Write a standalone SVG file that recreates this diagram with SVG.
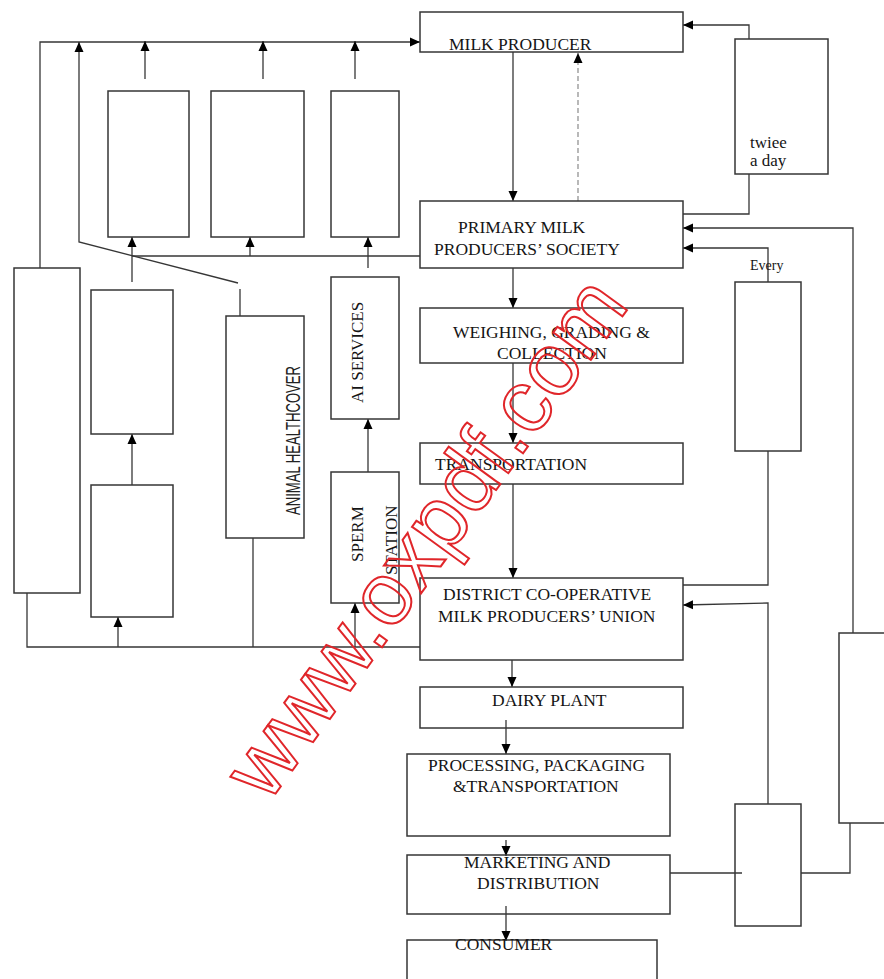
<svg xmlns="http://www.w3.org/2000/svg" width="884" height="979" viewBox="0 0 884 979">
<defs>
<style>
.box{fill:none;stroke:#363636;stroke-width:1.5}
.ln{fill:none;stroke:#363636;stroke-width:1.3}
.dash{fill:none;stroke:#8a8a8a;stroke-width:1.2;stroke-dasharray:5 3}
.t{font-family:"Liberation Serif","Times New Roman",serif;font-size:17.5px;fill:#151515}
.s{font-family:"Liberation Serif","Times New Roman",serif;font-size:17px;fill:#151515}
.r{font-family:"Liberation Serif","Times New Roman",serif;font-size:17px;fill:#151515}
.n{font-family:"Liberation Sans",Arial,sans-serif;font-size:14px;fill:#222}
.wm{font-family:"Liberation Sans",Arial,sans-serif;font-size:88px;fill:none;stroke:#e0262a;stroke-width:2}
</style>
<marker id="ah" viewBox="0 0 10 10" refX="10" refY="5" markerWidth="10" markerHeight="10" markerUnits="userSpaceOnUse" orient="auto">
<path d="M0,0.5 L10,5 L0,9.5 z" fill="#000"/>
</marker>
</defs>
<rect width="884" height="979" fill="#fff"/>

<g id="connectors">
<path class="ln" d="M40,268 V42 H420" marker-end="url(#ah)"/>
<path class="ln" d="M238,283 L79,242 V42" marker-end="url(#ah)"/>
<path class="ln" d="M240,316 V289"/>
<path class="ln" d="M145,79 V41" marker-end="url(#ah)"/>
<path class="ln" d="M263,79 V41" marker-end="url(#ah)"/>
<path class="ln" d="M355,79 V41" marker-end="url(#ah)"/>
<path class="ln" d="M420,256 H132"/>
<path class="ln" d="M132,282 V237" marker-end="url(#ah)"/>
<path class="ln" d="M250,256 V237" marker-end="url(#ah)"/>
<path class="ln" d="M368,268 V237" marker-end="url(#ah)"/>
<path class="ln" d="M132,485 V434" marker-end="url(#ah)"/>
<path class="ln" d="M27,593 V647 H420"/>
<path class="ln" d="M118,647 V617" marker-end="url(#ah)"/>
<path class="ln" d="M253,538 V647"/>
<path class="ln" d="M355,647 V603" marker-end="url(#ah)"/>
<path class="ln" d="M368,472 V419" marker-end="url(#ah)"/>
<path class="ln" d="M513,52 V201" marker-end="url(#ah)"/>
<path class="dash" d="M578,201 V53" marker-end="url(#ah)"/>
<path class="ln" d="M513,268 V308" marker-end="url(#ah)"/>
<path class="ln" d="M513,363 V443" marker-end="url(#ah)"/>
<path class="ln" d="M513,484 V578" marker-end="url(#ah)"/>
<path class="ln" d="M512,660 V687" marker-end="url(#ah)"/>
<path class="ln" d="M506,720 V754" marker-end="url(#ah)"/>
<path class="ln" d="M506,840 V856" marker-end="url(#ah)"/>
<path class="ln" d="M506,906 V941" marker-end="url(#ah)"/>
<path class="ln" d="M749,39 V25 H683" marker-end="url(#ah)"/>
<path class="ln" d="M683,214 H749 V174"/>
<path class="ln" d="M853,633 V228 H683" marker-end="url(#ah)"/>
<path class="ln" d="M768,282 V248 H683" marker-end="url(#ah)"/>
<path class="ln" d="M768,451 V585 H683"/>
<path class="ln" d="M768,804 V603 L683,605" marker-end="url(#ah)"/>
<path class="ln" d="M670,873 H742"/>
<path class="ln" d="M801,873 H850 V823"/>
</g>

<g id="milk-producer"><rect class="box" x="420" y="12" width="263" height="40"/><text class="t" x="449" y="50">MILK PRODUCER</text></g>
<g id="primary-society"><rect class="box" x="420" y="201" width="263" height="67"/><text class="t" x="458" y="233">PRIMARY MILK</text><text class="t" x="434" y="255">PRODUCERS’ SOCIETY</text></g>
<g id="weighing"><rect class="box" x="420" y="308" width="263" height="55"/><text class="t" x="453" y="338">WEIGHING, GRADING &amp;</text><text class="t" x="497" y="359">COLLECTION</text></g>
<g id="transportation"><rect class="box" x="420" y="443" width="263" height="41"/><text class="t" x="435" y="470">TRANSPORTATION</text></g>
<g id="district-union"><rect class="box" x="420" y="578" width="263" height="82"/><text class="t" x="443" y="600">DISTRICT CO-OPERATIVE</text><text class="t" x="438" y="622">MILK PRODUCERS’ UNION</text></g>
<g id="dairy-plant"><rect class="box" x="420" y="687" width="263" height="41"/><text class="t" x="492" y="706">DAIRY PLANT</text></g>
<g id="processing"><rect class="box" x="407" y="754" width="263" height="82"/><text class="t" x="428" y="771">PROCESSING, PACKAGING</text><text class="t" x="453" y="792">&amp;TRANSPORTATION</text></g>
<g id="marketing"><rect class="box" x="407" y="855" width="263" height="59"/><text class="t" x="464" y="868">MARKETING AND</text><text class="t" x="477" y="889">DISTRIBUTION</text></g>
<g id="consumer"><rect class="box" x="407" y="940" width="250" height="60"/><text class="t" x="455" y="950">CONSUMER</text></g>

<g id="twice-a-day"><rect class="box" x="735" y="39" width="93" height="135"/><text class="s" x="750" y="148">twiee</text><text class="s" x="750" y="166">a day</text></g>
<g id="every"><rect class="box" x="735" y="282" width="66" height="169"/><text class="s" x="750" y="270" style="font-size:14px">Every</text></g>
<g id="box-bottom-right"><rect class="box" x="735" y="804" width="66" height="122"/></g>
<g id="box-far-right"><rect class="box" x="839" y="633" width="60" height="190"/></g>

<g id="box-top-1"><rect class="box" x="108" y="91" width="81" height="146"/></g>
<g id="box-top-2"><rect class="box" x="211" y="91" width="93" height="146"/></g>
<g id="box-top-3"><rect class="box" x="331" y="91" width="68" height="146"/></g>
<g id="box-left-tall"><rect class="box" x="14" y="268" width="66" height="325"/></g>
<g id="box-left-2"><rect class="box" x="91" y="290" width="82" height="144"/></g>
<g id="box-left-3"><rect class="box" x="91" y="485" width="82" height="132"/></g>
<g id="animal-health"><rect class="box" x="226" y="316" width="78" height="222"/><text class="n" transform="translate(300,515) rotate(-90) scale(1,1.45)" textLength="149" lengthAdjust="spacingAndGlyphs">ANIMAL HEALTHCOVER</text></g>
<g id="ai-services"><rect class="box" x="331" y="277" width="68" height="142"/><text class="r" transform="translate(363,403) rotate(-90)">AI SERVICES</text></g>
<g id="sperm-station"><rect class="box" x="331" y="472" width="68" height="131"/><text class="r" transform="translate(363,562) rotate(-90)">SPERM</text><text class="r" transform="translate(397,575) rotate(-90)">STATION</text></g>

<g id="watermark"><text class="wm" transform="translate(429,540) rotate(-54)" text-anchor="middle" y="25">www.oxpdf.com</text></g>
</svg>
